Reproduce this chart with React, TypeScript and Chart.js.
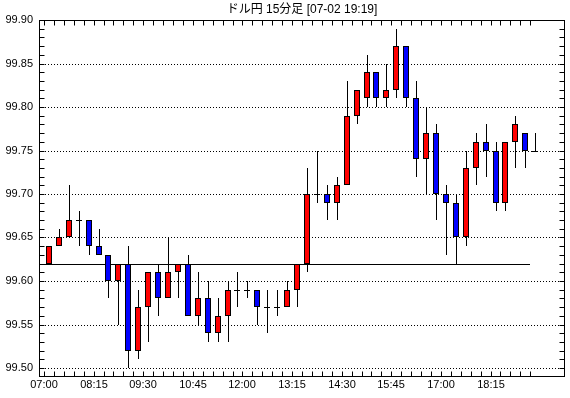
import React, { useEffect, useRef } from "react";
import { Chart, registerables } from "chart.js";

Chart.register(...registerables);

const TITLE = "ドル円 15分足 [07-02 19:19]";
const TIME_LABELS = ["07:00", "08:15", "09:30", "10:45", "12:00", "13:15", "14:30", "15:45", "17:00", "18:15"];

const OPEN = [
  99.62, 99.64, 99.65, 99.67, 99.67, 99.64, 99.63, 99.60, 99.62, 99.52,
  99.57, 99.61, 99.58, 99.61, 99.62, 99.56, 99.58, 99.54, 99.56, 99.59,
  99.59, 99.59, 99.57, 99.57, 99.57, 99.59, 99.62, 99.70, 99.70, 99.69,
  99.71, 99.79, 99.81, 99.84, 99.81, 99.82, 99.87, 99.81, 99.74, 99.77,
  99.70, 99.69, 99.65, 99.73, 99.76, 99.75, 99.69, 99.76, 99.77, 99.75,
];
const HIGH = [
  99.64, 99.66, 99.71, 99.68, 99.67, 99.66, 99.63, 99.62, 99.64, 99.59,
  99.61, 99.62, 99.65, 99.62, 99.63, 99.61, 99.60, 99.58, 99.60, 99.61,
  99.60, 99.59, 99.59, 99.59, 99.60, 99.62, 99.73, 99.75, 99.71, 99.72,
  99.83, 99.82, 99.86, 99.84, 99.85, 99.89, 99.87, 99.83, 99.80, 99.78,
  99.71, 99.70, 99.75, 99.77, 99.78, 99.76, 99.76, 99.79, 99.77, 99.77,
];
const LOW = [
  99.62, 99.64, 99.65, 99.64, 99.63, 99.63, 99.58, 99.55, 99.50, 99.51,
  99.53, 99.56, 99.58, 99.58, 99.56, 99.55, 99.53, 99.53, 99.53, 99.57,
  99.58, 99.55, 99.54, 99.56, 99.57, 99.57, 99.61, 99.69, 99.67, 99.67,
  99.71, 99.78, 99.80, 99.80, 99.80, 99.81, 99.80, 99.72, 99.70, 99.67,
  99.63, 99.62, 99.64, 99.71, 99.72, 99.68, 99.68, 99.73, 99.73, 99.75,
];
const CLOSE = [
  99.64, 99.65, 99.67, 99.67, 99.64, 99.63, 99.60, 99.62, 99.52, 99.57,
  99.61, 99.58, 99.61, 99.62, 99.56, 99.58, 99.54, 99.56, 99.59, 99.59,
  99.59, 99.57, 99.57, 99.57, 99.59, 99.62, 99.70, 99.70, 99.69, 99.71,
  99.79, 99.82, 99.84, 99.81, 99.82, 99.87, 99.81, 99.74, 99.77, 99.70,
  99.69, 99.65, 99.73, 99.76, 99.75, 99.69, 99.76, 99.78, 99.75, 99.75,
];

const REF_LEVEL = 99.62;
const REF_FROM = -0.5;
const REF_TO = 48.5;
const Y_MIN = 99.5;
const Y_MAX = 99.9;
const X_MIN = -1;
const X_MAX = 52;
const UP_COLOR = "#ff0000";
const DOWN_COLOR = "#0000ff";
const FONT_FAMILY = '"Liberation Sans", "Noto Sans CJK JP", sans-serif';

const N = OPEN.length;

// Half-pixel nudges so 1px strokes land crisply on device pixels.
const NUDGE: Record<number, [number, number]> = { 0: [0, 0.5], 1: [0.5, 0], 3: [0, 0.5] };

const crispPlugin = {
  id: "crisp",
  beforeDatasetDraw(chart: any, args: any) {
    const n = NUDGE[args.index];
    chart.ctx.save();
    if (n) chart.ctx.translate(n[0], n[1]);
  },
  afterDatasetDraw(chart: any) {
    chart.ctx.restore();
  },
};

const framePlugin = {
  id: "frameAndTitle",
  afterDraw(chart: any) {
    const { ctx, chartArea: a, scales } = chart;
    const x = scales.x;
    const y = scales.y;
    const left = Math.round(a.left) + 0.5;
    const right = Math.round(a.right) - 0.5;
    const top = Math.round(a.top) + 0.5;
    const bottom = Math.round(a.bottom) + 8.5;
    ctx.save();
    ctx.strokeStyle = "#000";
    ctx.lineWidth = 1;
    ctx.setLineDash([]);
    ctx.strokeRect(left, top, right - left, bottom - top);
    ctx.beginPath();
    const steps = Math.round((Y_MAX - Y_MIN) / 0.01);
    for (let k = 0; k <= steps; k++) {
      const py = Math.round(y.getPixelForValue(Y_MIN + k * 0.01)) + 0.5;
      ctx.moveTo(left, py);
      ctx.lineTo(left + 5, py);
      ctx.moveTo(right, py);
      ctx.lineTo(right - 5, py);
    }
    for (let i = 0; i < N; i++) {
      const px = Math.round(x.getPixelForValue(i - 0.5)) + 0.5;
      ctx.moveTo(px, top);
      ctx.lineTo(px, top + 5);
      ctx.moveTo(px, bottom);
      ctx.lineTo(px, bottom - 5);
    }
    ctx.stroke();
    ctx.fillStyle = "#000";
    ctx.font = `12px ${FONT_FAMILY}`;
    ctx.textAlign = "center";
    ctx.textBaseline = "middle";
    ctx.fillText(TITLE, (a.left + a.right) / 2, 10);
    ctx.restore();
  },
};

export default function App() {
  const ref = useRef<HTMLCanvasElement | null>(null);

  useEffect(() => {
    if (!ref.current) return;
    const idx = OPEN.map((_, i) => i);
    const chart = new Chart(ref.current, {
      type: "bar",
      data: {
        datasets: [
          {
            type: "line",
            data: [
              { x: REF_FROM, y: REF_LEVEL },
              { x: REF_TO, y: REF_LEVEL },
            ],
            borderColor: "#000",
            borderWidth: 1,
            pointRadius: 0,
            order: 3,
          } as any,
          {
            type: "bar",
            data: idx.map((i) => ({ x: i, y: [LOW[i], HIGH[i]] })),
            backgroundColor: "#000",
            borderWidth: 0,
            barThickness: 1,
            grouped: false,
            inflateAmount: 0,
            order: 2,
          } as any,
          {
            type: "bar",
            data: idx.map((i) => ({ x: i, y: [OPEN[i], CLOSE[i]] })),
            backgroundColor: idx.map((i) => (CLOSE[i] >= OPEN[i] ? UP_COLOR : DOWN_COLOR)),
            borderColor: "#000",
            borderWidth: 1,
            borderSkipped: false,
            barThickness: 6,
            grouped: false,
            inflateAmount: 0,
            order: 1,
          } as any,
          {
            type: "scatter",
            data: idx.filter((i) => OPEN[i] === CLOSE[i]).map((i) => ({ x: i, y: CLOSE[i] })),
            pointStyle: "line",
            pointRadius: 3,
            borderColor: "#000",
            borderWidth: 1,
            order: 0,
          } as any,
        ],
      },
      options: {
        animation: false,
        responsive: false,
        devicePixelRatio: 1,
        events: [],
        layout: { padding: { top: 20, right: 5, left: 0, bottom: 0 } },
        plugins: { legend: { display: false }, tooltip: { enabled: false }, title: { display: false } },
        scales: {
          x: {
            type: "linear",
            min: X_MIN,
            max: X_MAX,
            offset: false,
            alignToPixels: true,
            grid: { display: false, drawTicks: false, offset: false },
            border: { display: false },
            afterBuildTicks: (s: any) => {
              s.ticks = TIME_LABELS.map((_, k) => ({ value: k * 5 - 0.5 }));
            },
            afterFit: (s: any) => {
              s.height = 30;
            },
            ticks: {
              autoSkip: false,
              maxRotation: 0,
              padding: 10,
              color: "#000",
              font: { family: FONT_FAMILY, size: 11 },
              callback: (_v: any, i: number) => TIME_LABELS[i],
            },
          },
          y: {
            type: "linear",
            min: Y_MIN,
            max: Y_MAX,
            alignToPixels: true,
            grid: { display: true, color: "#000", lineWidth: 1, drawTicks: false },
            border: { display: false, dash: [1, 2] },
            afterFit: (s: any) => {
              s.width = 39;
            },
            ticks: {
              stepSize: 0.05,
              padding: 6,
              color: "#000",
              font: { family: FONT_FAMILY, size: 11 },
              callback: (v: any) => Number(v).toFixed(2),
            },
          },
        },
      },
      plugins: [crispPlugin, framePlugin],
    } as any);
    return () => chart.destroy();
  }, []);

  return (
    <div style={{ position: "fixed", left: 0, top: 0, width: 570, height: 398, background: "#fff" }}>
      <canvas ref={ref} width={570} height={398} style={{ display: "block" }} />
    </div>
  );
}
